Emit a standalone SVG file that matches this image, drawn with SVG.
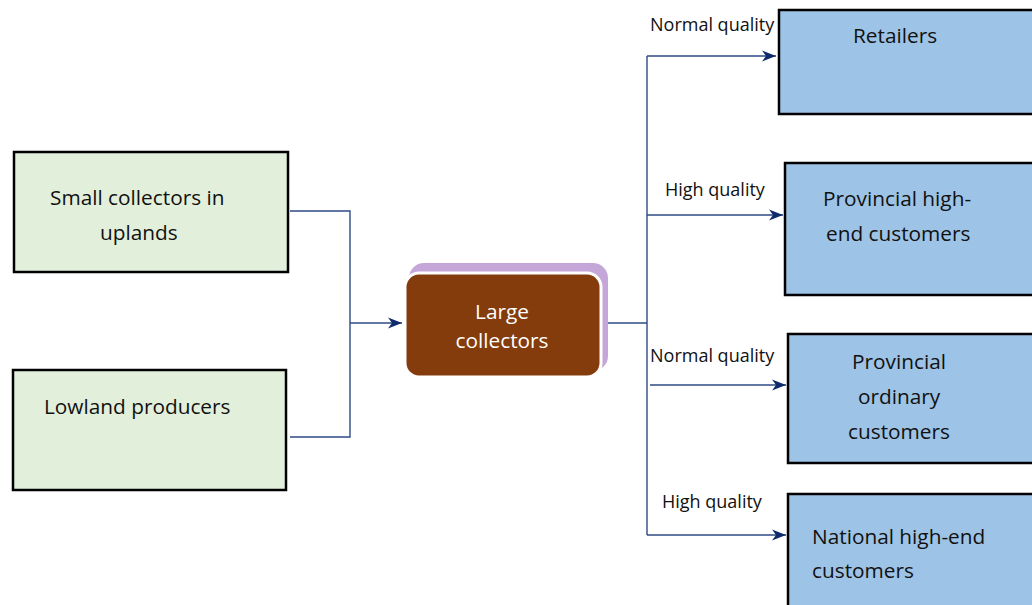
<svg xmlns="http://www.w3.org/2000/svg" width="1032" height="605" viewBox="0 0 1032 605">
<style>
.txt{font-family:"Open Sans","Liberation Sans",sans-serif;font-size:20.8px;fill:#111}
.lbl{font-family:"Open Sans","Liberation Sans",sans-serif;font-size:18px;fill:#111}
.green{fill:#E2EFDA;stroke:#000;stroke-width:2.5}
.blue{fill:#9DC3E6;stroke:#000;stroke-width:2.5}
.conn{fill:none;stroke:#2F4A85;stroke-width:1.4}
</style>
<defs>
<marker id="arr" markerUnits="userSpaceOnUse" markerWidth="16" markerHeight="14" refX="14" refY="7" orient="auto">
<path d="M0,1.5 L14,7 L0,12.5 L4,7 Z" fill="#102B6A"/>
</marker>
</defs>
<rect width="1032" height="605" fill="#fff"/>
<g id="connectors">
<polyline class="conn" points="290,211 350,211 350,437 290,437"/>
<line class="conn" x1="350" y1="323" x2="402" y2="323" marker-end="url(#arr)"/>
<line class="conn" x1="601" y1="323" x2="647" y2="323"/>
<line class="conn" x1="647" y1="56" x2="647" y2="535"/>
<line class="conn" x1="647" y1="56" x2="776" y2="56" marker-end="url(#arr)"/>
<line class="conn" x1="647" y1="215" x2="783" y2="215" marker-end="url(#arr)"/>
<line class="conn" x1="650" y1="385" x2="786" y2="385" marker-end="url(#arr)"/>
<line class="conn" x1="647" y1="535" x2="786" y2="535" marker-end="url(#arr)"/>
<text class="lbl" x="650" y="31">Normal quality</text>
<text class="lbl" x="665" y="196">High quality</text>
<text class="lbl" x="650" y="362">Normal quality</text>
<text class="lbl" x="662" y="508">High quality</text>
</g>
<g id="small-collectors">
<rect class="green" x="14" y="152" width="274" height="120"/>
<text class="txt" x="50" y="205">Small collectors in</text>
<text class="txt" x="100" y="240">uplands</text>
</g>
<g id="lowland-producers">
<rect class="green" x="13" y="370" width="273" height="120"/>
<text class="txt" x="44" y="414">Lowland producers</text>
</g>
<g id="large-collectors">
<rect x="409" y="263" width="199" height="108" rx="15" fill="#C4A7D8"/>
<rect x="405" y="273" width="196" height="104" rx="14" fill="#843C0C" stroke="#fff" stroke-width="3"/>
<text class="txt" x="502" y="319" text-anchor="middle" style="fill:#fff">Large</text>
<text class="txt" x="502" y="348" text-anchor="middle" style="fill:#fff">collectors</text>
</g>
<g id="retailers">
<rect class="blue" x="779" y="10" width="262" height="104"/>
<text class="txt" x="853" y="43">Retailers</text>
</g>
<g id="provincial-high-end">
<rect class="blue" x="785" y="163" width="256" height="132"/>
<text class="txt" x="823" y="206">Provincial high-</text>
<text class="txt" x="826" y="241">end customers</text>
</g>
<g id="provincial-ordinary">
<rect class="blue" x="788" y="334" width="253" height="129"/>
<text class="txt" x="852" y="369">Provincial</text>
<text class="txt" x="858" y="404">ordinary</text>
<text class="txt" x="848" y="439">customers</text>
</g>
<g id="national-high-end">
<rect class="blue" x="788" y="494" width="253" height="130"/>
<text class="txt" x="812" y="544">National high-end</text>
<text class="txt" x="812" y="578">customers</text>
</g>
</svg>
